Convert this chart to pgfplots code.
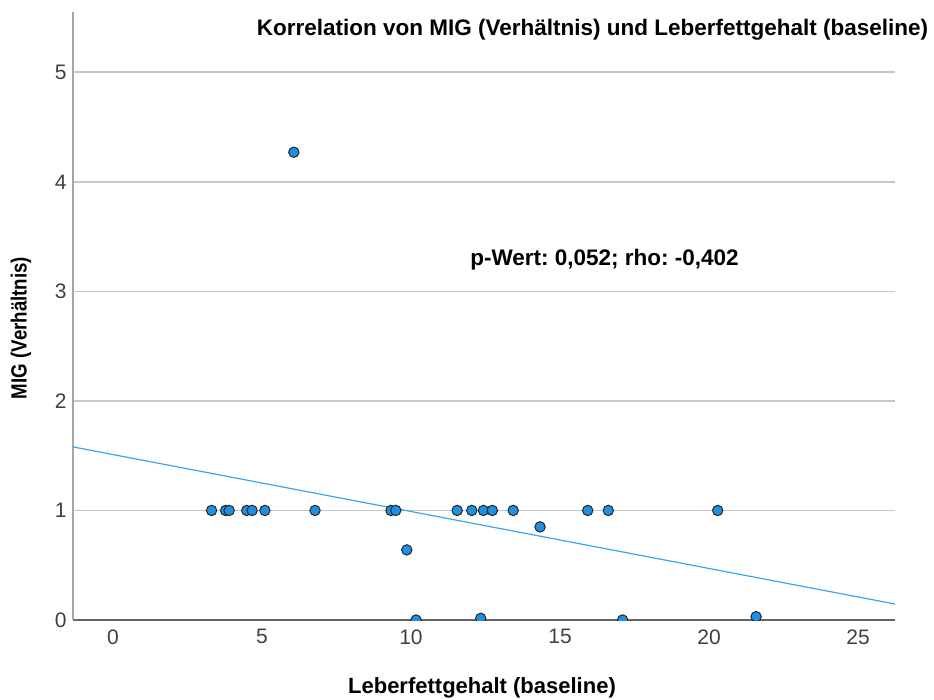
\documentclass[border=0pt]{standalone}
\usepackage{pgfplots}
\pgfplotsset{compat=1.18}
\usepackage{fontspec}
\setmainfont{Liberation Sans}
\frenchspacing
\definecolor{ptfill}{HTML}{1E8FE1}
\definecolor{fitline}{HTML}{3AA5EE}
\begin{document}
\begin{tikzpicture}[x=1pt,y=1pt]
\path[use as bounding box] (-73,-79) rectangle (861,620);
\begin{axis}[at={(0,0)}, anchor=south west, scale only axis,
  width=822pt, height=608pt,
  xmin=-1.34, xmax=26.24, ymin=0, ymax=5.55,
  axis x line*=bottom, axis y line*=left,
  x axis line style={draw=black!60, line width=1.3pt, -},
  y axis line style={draw=black!35, line width=2.2pt, -},
  xtick={0,5,10,15,20,25}, ytick={0,1,2,3,4,5},
  major tick length=0pt,
  ymajorgrids, grid style={draw=black!22, line width=1.6pt},
  tick label style={font=\fontsize{21}{25}\selectfont, text=black!75},
  /pgf/number format/assume math mode=true,
  xticklabel style={yshift=-6pt}, yticklabel style={xshift=-3pt},
  clip marker paths=true,
]
\addplot[color=fitline, line width=1.2pt] coordinates {(-1.34,1.58) (26.24,0.146)};
\addplot[only marks, mark=*, mark size=5.2pt, mark options={fill=ptfill, draw=black!85, line width=1pt}]
coordinates {
(3.31,1) (3.78,1) (3.90,1) (4.49,1) (4.67,1) (5.10,1) (6.07,4.27) (6.78,1)
(9.33,1) (9.49,1) (9.86,0.64) (10.17,0) (11.55,1) (12.04,1) (12.34,0.015)
(12.43,1) (12.73,1) (13.43,1) (14.33,0.85) (15.93,1) (16.62,1) (17.10,0)
(20.29,1) (21.58,0.03)
};
\end{axis}
\node[font=\bfseries\fontsize{22.5}{26}\selectfont] at (519.5,590) {Korrelation von MIG (Verhältnis) und Leberfettgehalt (baseline)};
\node[font=\bfseries\fontsize{22.5}{26}\selectfont] at (531.5,360) {p-Wert: 0,052; rho: -0,402};
\node[font=\bfseries\fontsize{22}{26}\selectfont] at (409,-68) {Leberfettgehalt (baseline)};
\node[rotate=90, font=\bfseries\fontsize{22}{26}\selectfont] at (-52,292) {\scalebox{0.85}[1]{MIG (Verhältnis)}};
\end{tikzpicture}
\end{document}
